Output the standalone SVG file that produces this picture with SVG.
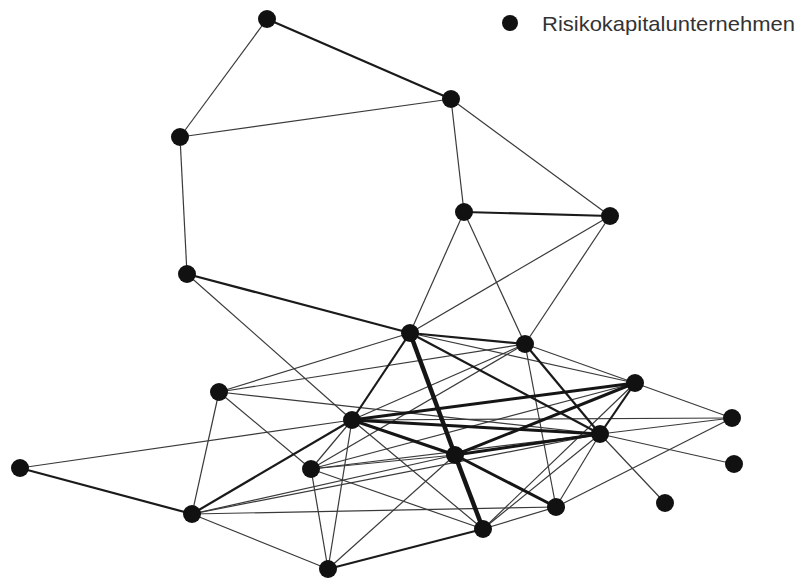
<svg xmlns="http://www.w3.org/2000/svg" width="800" height="578" viewBox="0 0 800 578">
<style>
.t{stroke:#3a3a3a;stroke-width:1.2;fill:none}
.m{stroke:#1a1a1a;stroke-width:2.2;fill:none}
.T{stroke:#151515;stroke-width:3;fill:none}
.V{stroke:#151515;stroke-width:4.5;fill:none}
.n{fill:#111}
.lbl{font-family:"Liberation Sans",Arial,sans-serif;font-size:21px;fill:#333}
</style>
<rect width="800" height="578" fill="#fff"/>
<g id="connectors">
<line class="t" x1="267" y1="19" x2="180" y2="137"/>
<line class="t" x1="451" y1="99" x2="180" y2="137"/>
<line class="t" x1="180" y1="137" x2="187" y2="274"/>
<line class="t" x1="451" y1="99" x2="464" y2="212"/>
<line class="t" x1="451" y1="99" x2="610" y2="216"/>
<line class="t" x1="464" y1="212" x2="410" y2="333"/>
<line class="t" x1="464" y1="212" x2="525" y2="344"/>
<line class="t" x1="610" y1="216" x2="410" y2="333"/>
<line class="t" x1="610" y1="216" x2="525" y2="344"/>
<line class="t" x1="187" y1="274" x2="352" y2="420"/>
<line class="t" x1="410" y1="333" x2="219" y2="392"/>
<line class="t" x1="410" y1="333" x2="635" y2="383"/>
<line class="t" x1="525" y1="344" x2="635" y2="383"/>
<line class="t" x1="525" y1="344" x2="219" y2="392"/>
<line class="t" x1="525" y1="344" x2="352" y2="420"/>
<line class="t" x1="525" y1="344" x2="556" y2="507"/>
<line class="t" x1="525" y1="344" x2="311" y2="469"/>
<line class="t" x1="219" y1="392" x2="600" y2="434"/>
<line class="t" x1="219" y1="392" x2="311" y2="469"/>
<line class="t" x1="219" y1="392" x2="192" y2="514"/>
<line class="t" x1="635" y1="383" x2="732" y2="418"/>
<line class="t" x1="635" y1="383" x2="311" y2="469"/>
<line class="t" x1="635" y1="383" x2="483" y2="529"/>
<line class="t" x1="732" y1="418" x2="600" y2="434"/>
<line class="t" x1="732" y1="418" x2="352" y2="420"/>
<line class="t" x1="732" y1="418" x2="556" y2="507"/>
<line class="t" x1="352" y1="420" x2="20" y2="468"/>
<line class="t" x1="352" y1="420" x2="311" y2="469"/>
<line class="t" x1="352" y1="420" x2="483" y2="529"/>
<line class="t" x1="352" y1="420" x2="328" y2="569"/>
<line class="t" x1="600" y1="434" x2="734" y2="464"/>
<line class="t" x1="600" y1="434" x2="665" y2="503"/>
<line class="t" x1="600" y1="434" x2="556" y2="507"/>
<line class="t" x1="600" y1="434" x2="192" y2="514"/>
<line class="t" x1="600" y1="434" x2="483" y2="529"/>
<line class="t" x1="600" y1="434" x2="311" y2="469"/>
<line class="t" x1="455" y1="455" x2="311" y2="469"/>
<line class="t" x1="455" y1="455" x2="192" y2="514"/>
<line class="t" x1="455" y1="455" x2="328" y2="569"/>
<line class="t" x1="311" y1="469" x2="483" y2="529"/>
<line class="t" x1="311" y1="469" x2="328" y2="569"/>
<line class="t" x1="556" y1="507" x2="192" y2="514"/>
<line class="t" x1="556" y1="507" x2="483" y2="529"/>
<line class="t" x1="192" y1="514" x2="328" y2="569"/>
<line class="m" x1="267" y1="19" x2="451" y2="99"/>
<line class="m" x1="464" y1="212" x2="610" y2="216"/>
<line class="m" x1="187" y1="274" x2="410" y2="333"/>
<line class="m" x1="410" y1="333" x2="525" y2="344"/>
<line class="m" x1="410" y1="333" x2="352" y2="420"/>
<line class="m" x1="410" y1="333" x2="600" y2="434"/>
<line class="m" x1="525" y1="344" x2="600" y2="434"/>
<line class="m" x1="635" y1="383" x2="600" y2="434"/>
<line class="m" x1="352" y1="420" x2="192" y2="514"/>
<line class="m" x1="20" y1="468" x2="192" y2="514"/>
<line class="m" x1="483" y1="529" x2="328" y2="569"/>
<line class="T" x1="635" y1="383" x2="352" y2="420"/>
<line class="T" x1="352" y1="420" x2="600" y2="434"/>
<line class="T" x1="635" y1="383" x2="455" y2="455"/>
<line class="T" x1="352" y1="420" x2="455" y2="455"/>
<line class="T" x1="455" y1="455" x2="556" y2="507"/>
<line class="T" x1="455" y1="455" x2="600" y2="434"/>
<line class="V" x1="410" y1="333" x2="455" y2="455"/>
<line class="V" x1="455" y1="455" x2="483" y2="529"/>
</g>
<g id="nodes">
<circle id="n1" class="n" cx="267" cy="19" r="9"/>
<circle id="n2" class="n" cx="451" cy="99" r="9"/>
<circle id="n3" class="n" cx="180" cy="137" r="9"/>
<circle id="n4" class="n" cx="464" cy="212" r="9"/>
<circle id="n5" class="n" cx="610" cy="216" r="9"/>
<circle id="n6" class="n" cx="187" cy="274" r="9"/>
<circle id="n7" class="n" cx="410" cy="333" r="9"/>
<circle id="n8" class="n" cx="525" cy="344" r="9"/>
<circle id="n9" class="n" cx="219" cy="392" r="9"/>
<circle id="n10" class="n" cx="635" cy="383" r="9"/>
<circle id="n11" class="n" cx="732" cy="418" r="9"/>
<circle id="n12" class="n" cx="352" cy="420" r="9"/>
<circle id="n13" class="n" cx="600" cy="434" r="9"/>
<circle id="n14" class="n" cx="20" cy="468" r="9"/>
<circle id="n15" class="n" cx="455" cy="455" r="9"/>
<circle id="n16" class="n" cx="311" cy="469" r="9"/>
<circle id="n17" class="n" cx="734" cy="464" r="9"/>
<circle id="n18" class="n" cx="665" cy="503" r="9"/>
<circle id="n19" class="n" cx="556" cy="507" r="9"/>
<circle id="n20" class="n" cx="192" cy="514" r="9"/>
<circle id="n21" class="n" cx="483" cy="529" r="9"/>
<circle id="n22" class="n" cx="328" cy="569" r="9"/>
</g>
<g id="legend">
<circle class="n" cx="510" cy="23" r="8"/>
<text class="lbl" x="542" y="31" textLength="253" lengthAdjust="spacingAndGlyphs">Risikokapitalunternehmen</text>
</g>
</svg>
